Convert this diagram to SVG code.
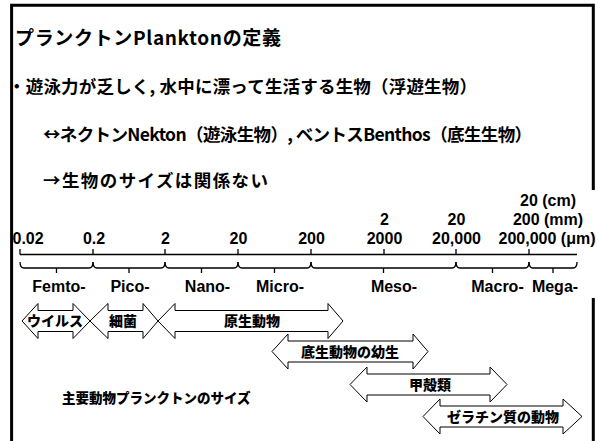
<svg xmlns="http://www.w3.org/2000/svg" width="598" height="441" viewBox="0 0 598 441">
<defs>
<style>
.jp{font-family:"Noto Sans CJK JP","Noto Sans CJK SC",sans-serif;font-weight:bold;fill:#000}
.hv{font-weight:900}
.en{font-family:"Liberation Sans",Arial,sans-serif;font-weight:bold;font-size:16px;fill:#000}
.frame{fill:none;stroke:#000;stroke-width:3}
.axis{fill:none;stroke:#000;stroke-width:1.3}
.arr{fill:#fff;stroke:#000;stroke-width:1}
.al{font-size:14px;text-anchor:middle}
.mid{text-anchor:middle}
</style>
</defs>
<rect width="598" height="441" fill="#fff"/>
<g id="frame">
<path class="frame" d="M11.6 441 V5.3 H593.3 V190"/>
<path class="frame" d="M593.3 298 V441"/>
</g>
<g id="texts">
<text class="jp" x="15" y="45" font-size="19" textLength="266" lengthAdjust="spacing">プランクトンPlanktonの定義</text>
<text class="jp" x="8" y="93" font-size="17.5" textLength="469" lengthAdjust="spacing">・遊泳力が乏しく, 水中に漂って生活する生物（浮遊生物）</text>
<text class="jp" x="43" y="141" font-size="17.5" textLength="489" lengthAdjust="spacing">↔ネクトンNekton（遊泳生物）, ベントスBenthos（底生生物）</text>
<text class="jp" x="43" y="186.5" font-size="17.5" textLength="225" lengthAdjust="spacing">→生物のサイズは関係ない</text>
</g>
<g id="scale">
<path class="axis" d="M20 254.5 H577 M20 249 V254.5 M93 249 V254.5 M165 249 V254.5 M238 249 V254.5 M311 249 V254.5 M384 249 V254.5 M456 249 V254.5 M529 249 V254.5"/>
<path class="axis" d="M20 262 Q20 268 24 268 H89 Q93 268 93 262 M56.5 268 V273"/>
<path class="axis" d="M93 262 Q93 268 97 268 H161 Q165 268 165 262 M129 268 V273"/>
<path class="axis" d="M165 262 Q165 268 169 268 H234 Q238 268 238 262 M201.5 268 V273"/>
<path class="axis" d="M238 262 Q238 268 242 268 H307 Q311 268 311 262 M274.5 268 V273"/>
<path class="axis" d="M311 262 Q311 268 315 268 H452 Q456 268 456 262 M383.5 268 V273"/>
<path class="axis" d="M456 262 Q456 268 460 268 H525 Q529 268 529 262 M492.5 268 V273"/>
<path class="axis" d="M529 262 Q529 268 533 268 H573 Q577 268 577 262 M553 268 V273"/>
<text class="en" x="12.5" y="244">0.02</text>
<text class="en mid" x="94" y="244">0.2</text>
<text class="en mid" x="165.5" y="244">2</text>
<text class="en mid" x="238.5" y="244">20</text>
<text class="en mid" x="311.5" y="244">200</text>
<text class="en mid" x="384.5" y="244">2000</text>
<text class="en mid" x="384.5" y="225">2</text>
<text class="en mid" x="456.5" y="244">20,000</text>
<text class="en mid" x="456.5" y="225">20</text>
<text class="en mid" x="548" y="206">20 (cm)</text>
<text class="en mid" x="548" y="225">200 (mm)</text>
<text class="en mid" x="547" y="244">200,000 (μm)</text>
<text class="en mid" x="59" y="292">Femto-</text>
<text class="en mid" x="130" y="292">Pico-</text>
<text class="en mid" x="207.5" y="292">Nano-</text>
<text class="en mid" x="280" y="292">Micro-</text>
<text class="en mid" x="394" y="292">Meso-</text>
<text class="en mid" x="497.5" y="292">Macro-</text>
<text class="en mid" x="555" y="292">Mega-</text>
</g>
<g id="virus">
<path class="arr" d="M22 321 L38 303.5 V310.5 H73 V303.5 L90 321 L73 338.5 V331.5 H38 V338.5 Z"/>
<text class="jp hv al" x="55" y="326">ウイルス</text>
</g>
<g id="bacteria">
<path class="arr" d="M90 321 L108 303.5 V310.5 H143 V303.5 L158 321 L143 338.5 V331.5 H108 V338.5 Z"/>
<text class="jp hv al" x="123" y="326">細菌</text>
</g>
<g id="protozoa">
<path class="arr" d="M158 321 L175 303.5 V310.5 H328 V303.5 L343 321 L328 338.5 V331.5 H175 V338.5 Z"/>
<text class="jp hv al" x="252" y="326">原生動物</text>
</g>
<g id="larvae">
<path class="arr" d="M272 351.5 L288 334 V341 H413 V334 L428 351.5 L413 369 V362 H288 V369 Z"/>
<text class="jp hv al" x="350" y="356.5">底生動物の幼生</text>
</g>
<g id="crustacea">
<path class="arr" d="M350 384.5 L367 367 V374 H490 V367 L507 384.5 L490 402 V395 H367 V402 Z"/>
<text class="jp hv al" x="430" y="389.5">甲殻類</text>
</g>
<g id="gelatinous">
<path class="arr" d="M423 416.5 L440 399 V406 H563 V399 L582 416.5 L563 434 V427 H440 V434 Z"/>
<text class="jp hv al" x="503" y="421.5">ゼラチン質の動物</text>
</g>
<g id="caption">
<text class="jp hv" x="62" y="403" font-size="13.5">主要動物プランクトンのサイズ</text>
</g>
</svg>
